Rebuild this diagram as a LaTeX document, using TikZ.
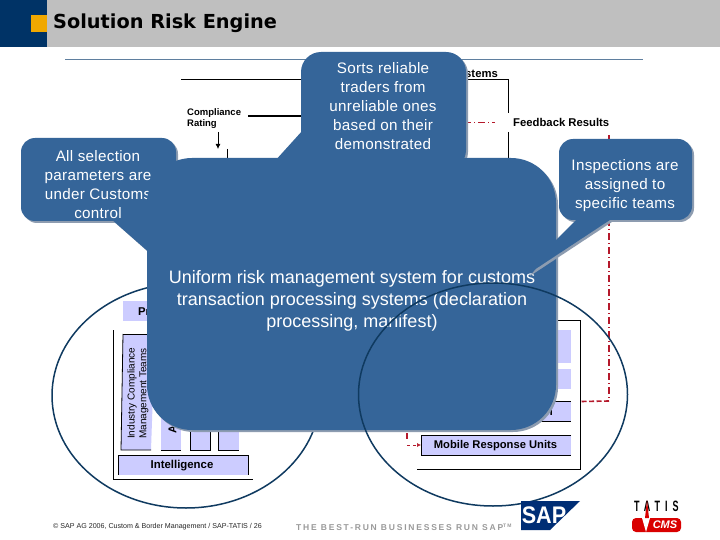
\documentclass[tikz,border=0pt]{standalone}
\usepackage{fontspec}
\setmainfont{Liberation Sans}
\newfontfamily\titlefont{DejaVu Sans}
\usetikzlibrary{arrows.meta}
\definecolor{navy}{HTML}{003366}
\definecolor{bandgrey}{HTML}{BFBFBF}
\definecolor{sqorange}{HTML}{F0A800}
\definecolor{rulecol}{HTML}{5F7F9F}
\definecolor{bubblecol}{HTML}{356599}
\definecolor{bubbleshadow}{HTML}{8D9CB0}
\definecolor{lav}{HTML}{CCCCFF}
\definecolor{redline}{HTML}{B5192B}
\definecolor{ringcol}{HTML}{0F3A60}
\definecolor{footgrey}{HTML}{9A9A9A}
\newcommand{\bubbleshape}[6]{%
  \fill[bubbleshadow,shift={(2pt,-2pt)}] #6;
  \fill[bubbleshadow,rounded corners=#5pt] (#1+2,#2+2) rectangle (#3+2,#4+2);
  \fill[bubblecol] #6;
  \fill[bubblecol,rounded corners=#5pt] (#1,#2) rectangle (#3,#4);
}
\tikzset{
  ring/.style={draw=ringcol,line width=1.5pt},
  bubbletext/.style={text=white,font=\addfontfeature{LetterSpace=2}\fontsize{15.2}{19}\selectfont,align=center,inner sep=0pt},
  bigtext/.style={text=white,font=\fontsize{18}{22}\selectfont,align=center,inner sep=0pt},
  labelb/.style={font=\bfseries\fontsize{11.3}{12}\selectfont,inner sep=0pt},
  smalllab/.style={font=\bfseries\fontsize{9.5}{11.5}\selectfont,align=left,inner sep=0pt},
  vlab/.style={font=\fontsize{10}{10}\selectfont,rotate=90,inner sep=0pt,anchor=west},
  lavbox/.style={fill=lav,draw=none},
  blk/.style={draw=black,line width=0.8pt},
  redd/.style={draw=redline,line width=1.5pt,dash pattern=on 7pt off 3pt on 1pt off 3pt},
  redp/.style={draw=redline,line width=1.6pt,dash pattern=on 5pt off 2.5pt},
}
\begin{document}
\begin{tikzpicture}[x=1pt,y=-1pt]
\useasboundingbox (0,0) rectangle (720,540);
\fill[white] (0,0) rectangle (720,540);
% header
\fill[bandgrey] (47,0) rectangle (720,47);
\fill[navy] (0,0) rectangle (47,47);
\fill[sqorange] (31,15) rectangle (47,32);
\node[anchor=west,inner sep=0pt,font=\titlefont\bfseries\fontsize{19.3}{22}\selectfont] (title) at (53,23) {Solution Risk Engine};
\draw[rulecol,line width=0.8pt] (65,59.5) -- (643,59.5);
% left ring
\draw[ring] (186,395.5) ellipse [x radius=134,y radius=112.5];
% feedback frame
\coordinate (ftl) at (181,79.5);
\coordinate (ftr) at (508.5,79.5);
\coordinate (fmid) at (508.5,113);
\coordinate (fmid2) at (508.5,132);
\coordinate (fbot) at (508.5,160);
\draw[blk] (ftl) -- (ftr) -- (fmid);
\draw[blk] (fmid2) -- (fbot);
\node[anchor=west,labelb] (sys) at (465,73.5) {stems};
\node[anchor=north west,smalllab] (comp) at (187,108) {Compliance\\Rating};
\coordinate (cl) at (248,116);
\coordinate (cr) at (303,116);
\draw[black,line width=1.2pt] (cl) -- (cr);
\coordinate (da) at (218,132);
\coordinate (db) at (218,149);
\draw[black,line width=0.8pt,-{Latex[length=5pt,width=5pt]}] (da) -- (db);
\coordinate (ea) at (227.5,149);
\coordinate (eb) at (227.5,160);
\draw[blk] (ea) -- (eb);
\node[anchor=west,labelb] (fb) at (513,122.5) {Feedback Results};
\coordinate (ra) at (464,122.5);
\coordinate (rb) at (495,122.5);
\draw[redd] (ra) -- (rb);
\coordinate (rc) at (609,135);
\coordinate (rd) at (609,401);
\coordinate (re) at (581,401.5);
\draw[redd] (rc) -- (rd);
\draw[redp] (rd) -- (re);
% right block
\draw[blk] (540,320.5) -- (580.5,320.5) -- (580.5,469.5) -- (417,469.5);
\fill[lavbox] (500,330) rectangle (571,362.5);
\fill[lavbox] (500,369) rectangle (571,389);
\fill[lavbox] (500,401) rectangle (571,421);
\draw[blk] (500,401) -- (571,401);
\draw[blk] (500,421) -- (571,421);
\node[anchor=east,labelb] (insp) at (553,412) {n};
\fill[lavbox] (421,435) rectangle (571,455);
\draw[blk] (571,435) -- (421,435) -- (421,455) -- (571,455);
\node[labelb,font=\bfseries\fontsize{11.2}{12}\selectfont] (mobile) at (495.5,445.5) {Mobile Response Units};
\coordinate (ma) at (407,433);
\coordinate (mb) at (407,439);
\draw[redline,line width=1.5pt] (ma) -- (mb);
\coordinate (mc) at (407,445);
\coordinate (md) at (421,445);
\draw[redline,line width=0.6pt,dashed,-{Latex[length=4pt,width=4pt]}] (mc) -- (md);
% left block
\fill[lavbox] (123,301) rectangle (160,321);
\node[anchor=west,labelb] (proc) at (138,311.5) {Pr};
\draw[blk] (113.5,330) -- (113.5,479.5) -- (253,479.5);
\fill[lavbox] (123,334) -- (155,334) -- (151,450) -- (121,450) -- cycle;
\draw[blk] (123,334) -- (121,450) -- (151,450);
\draw[blk] (123,334) -- (150,334);
\node[vlab] (ind1) at (132,439) {Industry Compliance};
\node[vlab] (ind2) at (144,439) {Management Teams};
\fill[lavbox] (161,400) rectangle (181,450);
\draw[blk] (161,450.5) -- (181,450.5);
\node[labelb,rotate=90,anchor=west] (an) at (172.5,434) {A};
\fill[lavbox] (190.5,400) rectangle (210.5,450);
\draw[blk] (190.5,400) -- (190.5,450.5) -- (210.5,450.5) -- (210.5,400);
\fill[lavbox] (218.5,400) rectangle (238.5,450);
\draw[blk] (218.5,400) -- (218.5,450.5) -- (238.5,450.5);
\fill[lavbox] (118.5,455.5) rectangle (248.5,475);
\draw[blk] (118.5,475) -- (118.5,455.5) -- (248.5,455.5) -- (248.5,475);
\node[labelb,font=\bfseries\fontsize{11.4}{12}\selectfont] (intel) at (182,465.5) {Intelligence};
% bubbles
\bubbleshape{21}{138}{176}{221}{14}{(110,218) -- (150,218) -- (160,262) -- cycle}
\node[bubbletext] (t1) at (98,184.5) {All selection\\parameters are\\under Customs\\control};
\bubbleshape{301}{52}{466}{170}{20}{(303,130) -- (340,158) -- (274,162) -- cycle}
\node[bubbletext,anchor=north] (t2) at (383,62) {Sorts reliable\\traders from\\unreliable ones\\based on their\\demonstrated};
\bubbleshape{147}{158}{556}{430}{45}{(147,190) -- (147,190) -- cycle}
\node[bigtext] (t3) at (352,301) {Uniform risk management system for customs\\transaction processing systems (declaration\\processing, manifest)};
\bubbleshape{559}{139}{692}{220}{14}{(580,216) -- (616,216) -- (528,274) -- (556,240) -- cycle}
\node[bubbletext] (t4) at (625,186) {Inspections are\\assigned to\\specific teams};
% right ring on top
\draw[ring] (493,394.5) ellipse [x radius=134.5,y radius=111.5];
% footer
\node[anchor=west,inner sep=0pt,font=\fontsize{7.1}{9}\selectfont,text=black!85] (foot) at (53,527) {© SAP AG 2006, Custom \& Border Management / SAP-TATIS / 26};
\node[anchor=west,inner sep=0pt,text=footgrey,font=\bfseries\fontsize{8.5}{9}\selectfont] (best) at (296,527) {\addfontfeature{LetterSpace=21}THE BEST-RUN BUSINESSES RUN SAP\textsuperscript{\tiny TM}};
% SAP logo
\fill[navy!90!blue] (521,501) -- (580,501) -- (550,530) -- (521,530) -- cycle;
\node[inner sep=0pt,text=white,font=\bfseries\fontsize{24}{25}\selectfont,xscale=0.9] (sap) at (544,515.5) {SAP};
% TATIS logo
\node[anchor=west,inner sep=0pt,font=\bfseries\fontsize{15}{16}\selectfont,xscale=0.6] (tatis) at (634,506) {\addfontfeature{LetterSpace=55}TATIS};
\fill[red!85!black,rounded corners=4pt] (632,518) rectangle (681,532);
\fill[white] (642,518) -- (650,518) -- (646,532) -- cycle;
\fill[red!85!black] (647,500) -- (649,518) -- (645,518) -- cycle;
\node[inner sep=0pt,text=white,font=\bfseries\itshape\fontsize{11}{12}\selectfont] (cms) at (665,525) {CMS};
\end{tikzpicture}
\end{document}
